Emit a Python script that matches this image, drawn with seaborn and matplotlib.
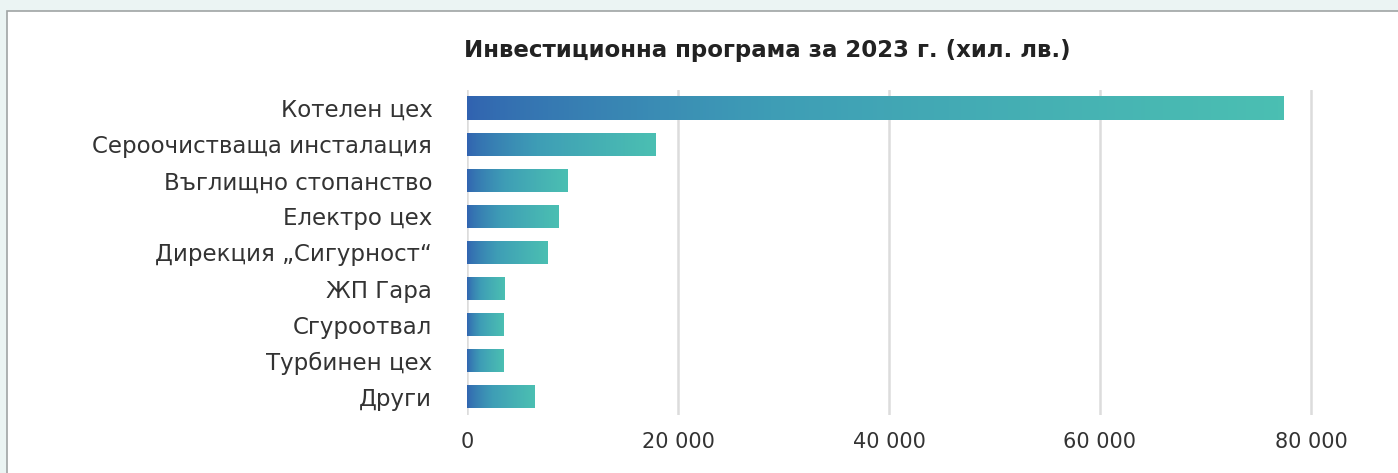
import matplotlib
matplotlib.use('Agg')
import matplotlib.pyplot as plt
from matplotlib.patches import Rectangle
from matplotlib.colors import LinearSegmentedColormap
from matplotlib.ticker import FuncFormatter
import seaborn as sns
import numpy as np
import pandas as pd

categories = ['Котелен цех', 'Сероочистваща инсталация', 'Въглищно стопанство',
              'Електро цех', 'Дирекция „Сигурност“', 'ЖП Гара', 'Сгуроотвал',
              'Турбинен цех', 'Други']
values = [77420, 17840, 9510, 8630, 7610, 3530, 3430, 3430, 6360]
x_ticks = [0, 20000, 40000, 60000, 80000]
title = 'Инвестиционна програма за 2023 г. (хил. лв.)'

df = pd.DataFrame({'category': categories, 'value': values})

sns.set_style('white')
plt.rcParams['font.family'] = ['DejaVu Sans']

fig = plt.figure(figsize=(13.98, 4.73), dpi=100, facecolor='#ebf4f3')

# white card with thin border
card = Rectangle((7 / 1398, -0.1), 1.1, 1 - 11 / 473 + 0.1, transform=fig.transFigure,
                 facecolor='white', edgecolor='#a0a4a4', linewidth=1.2, zorder=-5)
fig.patches.append(card)

ax = fig.add_axes([467 / 1398, 58 / 473, 865 / 1398, 325 / 473])
ax.set_facecolor('none')
ax.set_zorder(2)

sns.barplot(data=df, x='value', y='category', orient='h', ax=ax,
            width=0.64, color='#3f9fb0', zorder=3)

ax.set_xlim(0, 82000)
ax.set_ylim(len(categories) - 0.5, -0.5)

# gradient fill for each bar
cmap = LinearSegmentedColormap.from_list('grad', ['#3162b0', '#3e9db6', '#4bbfb2'])
grad = np.linspace(0, 1, 256) ** 0.7
grad = grad.reshape(1, -1)
for p in ax.patches:
    x0, y0 = p.get_x(), p.get_y()
    w, h = p.get_width(), p.get_height()
    p.set_facecolor('none')
    p.set_edgecolor('none')
    im = ax.imshow(grad, cmap=cmap, aspect='auto', extent=[x0, x0 + w, y0 + h, y0],
                   interpolation='bicubic', zorder=3)
    im.set_clip_path(p)

ax.set_xlim(0, 82000)
ax.set_ylim(len(categories) - 0.5, -0.5)

ax.set_xticks(x_ticks)
ax.xaxis.set_major_formatter(FuncFormatter(lambda v, pos: f'{int(v):,}'.replace(',', ' ')))
ax.grid(axis='x', color='#dcdcdc', linewidth=1.8, zorder=0)
ax.grid(axis='y', visible=False)
ax.set_axisbelow(True)
for s in ax.spines.values():
    s.set_visible(False)

ax.set_xlabel('')
ax.set_ylabel('')
ax.tick_params(axis='y', length=0, pad=25, labelsize=16.5, labelcolor='#333333')
ax.tick_params(axis='x', length=0, pad=12, labelsize=15, labelcolor='#333333')

fig.text(767 / 1398, 1 - 50 / 473, title, ha='center', va='center',
         fontsize=16.5, fontweight='bold', color='#222222')

fig.savefig('out.png', dpi=100, facecolor=fig.get_facecolor())
